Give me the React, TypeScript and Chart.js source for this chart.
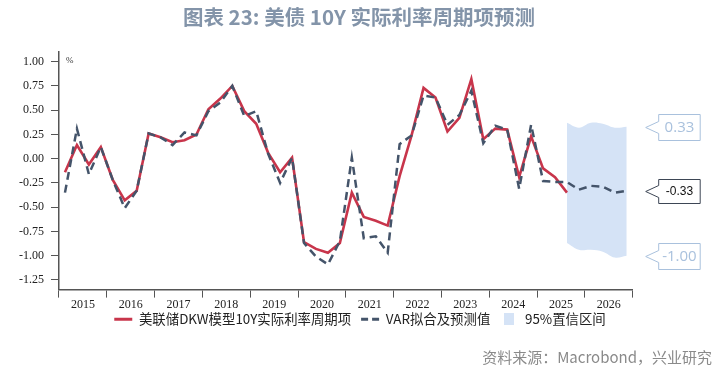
import React, { useEffect, useRef } from 'react';
import { Chart, registerables } from 'chart.js';

Chart.register(...registerables);

// ---- data ----
const years = ['2015', '2016', '2017', '2018', '2019', '2020', '2021', '2022', '2023', '2024', '2025', '2026'];
const quarterNames = ['Q1', 'Q2', 'Q3', 'Q4'];
const quarters = years.flatMap((y) => quarterNames.map((q) => y + q));

// 美联储DKW模型10Y实际利率周期项 (2015Q1 .. 2025Q3)
const dkwCycle = [
  -0.14, 0.14, -0.06, 0.12,
  -0.22, -0.43, -0.33, 0.26,
  0.22, 0.17, 0.19, 0.25,
  0.51, 0.62, 0.75, 0.49,
  0.36, 0.06, -0.14, 0.01,
  -0.86, -0.93, -0.97, -0.87,
  -0.35, -0.60, -0.64, -0.69,
  -0.18, 0.24, 0.73, 0.63,
  0.28, 0.42, 0.82, 0.20,
  0.31, 0.30, -0.19, 0.23,
  -0.10, -0.19, -0.35,
];

// VAR拟合及预测值 (2015Q1 .. 2026Q4)
const varFit = [
  -0.35, 0.31, -0.16, 0.12,
  -0.22, -0.51, -0.33, 0.26,
  0.22, 0.14, 0.27, 0.24,
  0.49, 0.58, 0.75, 0.44,
  0.49, 0.05, -0.25, 0.01,
  -0.87, -1.01, -1.09, -0.85,
  0.01, -0.82, -0.80, -0.97,
  0.15, 0.24, 0.65, 0.63,
  0.35, 0.45, 0.70, 0.16,
  0.34, 0.30, -0.31, 0.35,
  -0.23, -0.24, -0.24, -0.32,
  -0.28, -0.29, -0.35, -0.33,
];

// 95%置信区间
const bandQuarters = ['2025Q3', '2025Q4', '2026Q1', '2026Q2', '2026Q3', '2026Q4'];
const bandUpper = [0.37, 0.32, 0.37, 0.36, 0.32, 0.33];
const bandLower = [-0.87, -0.94, -0.94, -0.96, -1.02, -1.0];

const calloutValues = [0.33, -0.33, -1.0];
const calloutLabels = ['0.33', '-0.33', '-1.00'];

const RED = '#c8354b';
const BLUE = '#44546a';
const BAND = '#d5e3f6';
const LIGHT = '#a9c1dd';
const GAP = '   ';

const annotPlugin = {
  id: 'annot',
  afterDraw(chart: any) {
    const { ctx, chartArea } = chart;
    const ys = chart.scales.y;
    ctx.save();
    ctx.font = '9px "Liberation Serif"';
    ctx.fillStyle = '#333';
    ctx.textAlign = 'left';
    ctx.textBaseline = 'middle';
    ctx.fillText('%', chartArea.left + 7, ys.getPixelForValue(1.0) - 1);

    calloutValues.forEach((v, k) => {
      const yc = Math.round(ys.getPixelForValue(v)) + 0.5;
      const dark = k === 1;
      const tipX = chartArea.right + 13;
      const bx = chartArea.right + 26;
      const bw = 41.5;
      const bh = dark ? 24 : 26;
      const top = yc - bh / 2;
      ctx.beginPath();
      ctx.moveTo(tipX, yc);
      ctx.lineTo(bx, yc - 6);
      ctx.lineTo(bx, top);
      ctx.lineTo(bx + bw, top);
      ctx.lineTo(bx + bw, top + bh);
      ctx.lineTo(bx, top + bh);
      ctx.lineTo(bx, yc + 6);
      ctx.closePath();
      ctx.fillStyle = '#ffffff';
      ctx.fill();
      ctx.lineWidth = 1;
      ctx.strokeStyle = dark ? '#3d4655' : LIGHT;
      ctx.stroke();
      ctx.fillStyle = dark ? '#111111' : LIGHT;
      ctx.font = dark ? '12px "Liberation Sans"' : '15px "Open Sans"';
      ctx.textAlign = 'center';
      ctx.textBaseline = 'middle';
      ctx.fillText(calloutLabels[k], bx + bw / 2, yc + 0.5);
    });
    ctx.restore();
  },
};

export default function App() {
  const ref = useRef<HTMLCanvasElement | null>(null);

  useEffect(() => {
    if (!ref.current) return;
    const sq = document.createElement('canvas');
    sq.width = 10;
    sq.height = 12;
    const sctx = sq.getContext('2d');
    if (sctx) {
      sctx.fillStyle = BAND;
      sctx.fillRect(0, 0, 10, 12);
    }

    const chart = new Chart(ref.current, {
      type: 'line',
      data: {
        datasets: [
          {
            label: '美联储DKW模型10Y实际利率周期项',
            data: dkwCycle,
            borderColor: RED,
            backgroundColor: RED,
            borderWidth: 2.6,
            pointRadius: 0,
            tension: 0,
            fill: false,
            order: 1,
            xAxisID: 'x',
            yAxisID: 'y',
          },
          {
            label: 'VAR拟合及预测值',
            data: varFit,
            borderColor: BLUE,
            backgroundColor: BLUE,
            borderWidth: 2.5,
            borderDash: [8, 5],
            pointRadius: 0,
            tension: 0,
            fill: false,
            order: 0,
            xAxisID: 'x',
            yAxisID: 'y',
          },
          {
            label: '95%置信区间',
            data: bandQuarters.map((q, i) => ({ x: q, y: bandUpper[i] })),
            borderColor: BAND,
            backgroundColor: BAND,
            borderWidth: 0,
            pointRadius: 0,
            tension: 0.4,
            fill: '+1',
            order: 2,
            xAxisID: 'x',
            yAxisID: 'y',
          },
          {
            label: 'lower',
            data: bandQuarters.map((q, i) => ({ x: q, y: bandLower[i] })),
            borderColor: BAND,
            backgroundColor: BAND,
            borderWidth: 0,
            pointRadius: 0,
            tension: 0.4,
            fill: false,
            order: 3,
            xAxisID: 'x',
            yAxisID: 'y',
          },
        ],
      },
      options: {
        animation: false,
        responsive: false,
        maintainAspectRatio: false,
        layout: { padding: { left: 12, right: 20, top: 52, bottom: 35 } },
        plugins: {
          tooltip: { enabled: false },
          title: { display: false },
          legend: {
            display: true,
            position: 'bottom',
            labels: {
              usePointStyle: true,
              pointStyleWidth: 18,
              boxHeight: 12,
              padding: 1,
              color: '#222',
              font: { family: '"Noto Sans CJK SC"', size: 13.4 },
              generateLabels(ch: any) {
                const items = Chart.defaults.plugins.legend.labels.generateLabels(ch);
                return items
                  .filter((it: any) => it.datasetIndex !== 3)
                  .sort((a: any, b: any) => a.datasetIndex - b.datasetIndex)
                  .map((it: any) => {
                    if (it.datasetIndex === 0)
                      return { ...it, text: it.text + GAP, pointStyle: 'line', lineWidth: 3, strokeStyle: RED, lineDash: [] };
                    if (it.datasetIndex === 1)
                      return { ...it, text: it.text + GAP, pointStyle: 'line', lineWidth: 3, strokeStyle: BLUE, lineDash: [7, 4] };
                    return { ...it, pointStyle: sq, lineWidth: 0 };
                  });
              },
            },
          },
        },
        scales: {
          x: {
            type: 'category',
            labels: quarters,
            offset: true,
            display: false,
          },
          xYear: {
            type: 'category',
            labels: years,
            offset: true,
            position: 'bottom',
            grid: {
              offset: true,
              drawOnChartArea: false,
              drawTicks: true,
              tickLength: 8,
              color: '#555',
            },
            border: { display: true, color: '#555', width: 1.5 },
            ticks: {
              color: '#222',
              padding: 1,
              maxRotation: 0,
              autoSkip: false,
              font: { family: '"Liberation Serif"', size: 12, lineHeight: 1.0 },
            },
          },
          y: {
            type: 'linear',
            position: 'left',
            min: -1.35,
            max: 1.1,
            grid: {
              drawOnChartArea: false,
              drawTicks: true,
              tickLength: 8,
              color: '#555',
            },
            border: { display: true, color: '#555', width: 1.5 },
            ticks: {
              stepSize: 0.25,
              includeBounds: false,
              padding: 7,
              color: '#222',
              font: { family: '"Liberation Serif"', size: 12 },
              callback: (v: any) => Number(v).toFixed(2),
            },
          },
          yRight: {
            type: 'linear',
            position: 'right',
            display: true,
            grid: { display: false, drawTicks: false },
            border: { display: false },
            ticks: { display: false },
            afterFit(scale: any) {
              scale.width = 75.3;
            },
          },
        },
      },
      plugins: [annotPlugin],
    } as any);
    return () => chart.destroy();
  }, []);

  return (
    <div style={{ position: 'fixed', left: 0, top: 0, width: 728, height: 371, background: '#fff' }}>
      <canvas ref={ref} width={728} height={371} style={{ position: 'absolute', left: 0, top: 0 }} />
      <div
        style={{
          position: 'absolute',
          left: 0,
          top: 4,
          width: 718,
          textAlign: 'center',
          fontFamily: '"Noto Sans CJK SC", "Noto Sans", sans-serif',
          fontWeight: 700,
          fontSize: 20.5,
          lineHeight: '24px',
          color: '#8394a9',
          whiteSpace: 'nowrap',
        }}
      >
        图表 23: 美债 10Y 实际利率周期项预测
      </div>
      <div
        style={{
          position: 'absolute',
          right: 16,
          top: 348,
          fontFamily: '"Noto Sans CJK SC", "Noto Sans", sans-serif',
          fontSize: 15,
          lineHeight: '18px',
          color: '#8a8a8a',
          whiteSpace: 'nowrap',
        }}
      >
        资料来源：Macrobond，兴业研究
      </div>
    </div>
  );
}
